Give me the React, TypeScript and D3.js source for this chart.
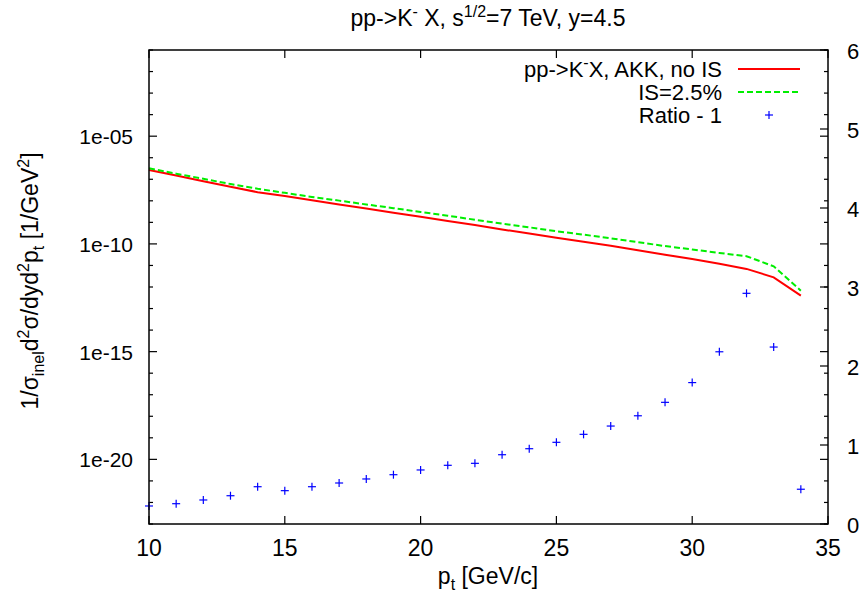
import React from "react";
import * as d3 from "d3";

const pt = [10, 11, 12, 13, 14, 15, 16, 17, 18, 19, 20, 21, 22, 23, 24, 25, 26, 27, 28, 29, 30, 31, 32, 33, 34];
const noIS = [2.69e-7, 1.48e-7, 8.13e-8, 4.47e-8, 2.51e-8, 1.66e-8, 1.05e-8, 6.76e-9, 4.37e-9, 2.82e-9, 1.82e-9, 1.17e-9, 7.59e-10, 4.68e-10, 3.02e-10, 1.95e-10, 1.26e-10, 8.13e-11, 5.13e-11, 3.16e-11, 2.0e-11, 1.2e-11, 6.92e-12, 2.82e-12, 3.98e-13];
const is25 = [3.24e-7, 1.82e-7, 1.05e-7, 6.03e-8, 3.63e-8, 2.34e-8, 1.51e-8, 1.02e-8, 6.76e-9, 4.57e-9, 3.02e-9, 2.04e-9, 1.32e-9, 8.71e-10, 5.89e-10, 3.89e-10, 2.69e-10, 1.82e-10, 1.2e-10, 7.94e-11, 5.5e-11, 3.8e-11, 2.69e-11, 9.12e-12, 6.76e-13];
const ratioM1 = [0.228, 0.257, 0.304, 0.358, 0.472, 0.422, 0.472, 0.519, 0.57, 0.624, 0.684, 0.743, 0.768, 0.877, 0.953, 1.034, 1.135, 1.24, 1.37, 1.54, 1.79, 2.18, 2.92, 2.24, 0.44];

const xTicks = [10, 15, 20, 25, 30, 35];
const yDecades = d3.range(-23, 0); // exponents -23..-1
const yLabeled = [-5, -10, -15, -20];
const y2Ticks = [0, 1, 2, 3, 4, 5, 6];

const FONT = "'Liberation Sans', Arial, sans-serif";

export default function App() {
  const W = 862, H = 600;
  const L = 149, R = 828, T = 50, B = 524;
  const x = d3.scaleLinear().domain([10, 35]).range([L, R]);
  const y = d3.scaleLog().domain([1e-23, 1e-1]).range([B, T]);
  const y2 = d3.scaleLinear().domain([0, 6]).range([B, T]);

  const redLine = d3.line<number>().x((_, i) => x(pt[i])).y((d) => y(d))(noIS) || "";
  const greenLine = d3.line<number>().x((_, i) => x(pt[i])).y((d) => y(d))(is25) || "";

  const fs = 23;
  const ss = 16;
  const major = 8, minor = 4;

  return (
    <svg width={W} height={H} style={{ position: "absolute", left: 0, top: 0, background: "#fff" }} fontFamily={FONT}>
      <rect x={0} y={0} width={W} height={H} fill="#fff" />
      {/* ticks */}
      <g stroke="#000" strokeWidth={1.2}>
        {xTicks.map((t) => (
          <g key={"xt" + t}>
            <line x1={x(t)} x2={x(t)} y1={B} y2={B - major} />
            <line x1={x(t)} x2={x(t)} y1={T} y2={T + major} />
          </g>
        ))}
        {yDecades.map((e) => {
          const len = yLabeled.includes(e) ? major : minor;
          const yy = y(Math.pow(10, e));
          return (
            <g key={"yt" + e}>
              <line x1={L} x2={L + len} y1={yy} y2={yy} />
              <line x1={R} x2={R - len} y1={yy} y2={yy} />
            </g>
          );
        })}
        {y2Ticks.map((t) => (
          <line key={"y2t" + t} x1={R} x2={R - major} y1={y2(t)} y2={y2(t)} />
        ))}
      </g>
      {/* tick labels */}
      <g fontSize={fs} fill="#000">
        {xTicks.map((t) => (
          <text key={"xl" + t} x={x(t)} y={B + 32} textAnchor="middle">{t}</text>
        ))}
        {yLabeled.map((e) => (
          <text key={"yl" + e} x={L - 16} y={y(Math.pow(10, e)) + 8} textAnchor="end" fontSize={21}>
            {"1e-" + String(-e).padStart(2, "0")}
          </text>
        ))}
        {y2Ticks.map((t) => (
          <text key={"y2l" + t} x={R + 19} y={y2(t) + 9} textAnchor="start" fontSize={22}>{t}</text>
        ))}
      </g>
      {/* data */}
      <path d={redLine} fill="none" stroke="#ff0000" strokeWidth={2} />
      <path d={greenLine} fill="none" stroke="#00ee00" strokeWidth={2} strokeDasharray="6,3" />
      <g stroke="#0000ff" strokeWidth={1.2}>
        {ratioM1.map((v, i) => {
          const cx = x(pt[i]);
          const cy = y2(v);
          return (
            <g key={"p" + i}>
              <line x1={cx - 4} x2={cx + 4} y1={cy} y2={cy} />
              <line x1={cx} x2={cx} y1={cy - 4} y2={cy + 4} />
            </g>
          );
        })}
      </g>
      {/* frame */}
      <rect x={L} y={T} width={R - L} height={B - T} fill="none" stroke="#000" strokeWidth={1.5} />
      {/* legend */}
      <g fontSize={22} fill="#000">
        <text x={722} y={77} textAnchor="end">
          pp-&gt;K<tspan dy={-9} fontSize={ss}>-</tspan><tspan dy={9}>X, AKK, no IS</tspan>
        </text>
        <line x1={738} x2={800} y1={69} y2={69} stroke="#ff0000" strokeWidth={2} />
        <text x={722} y={100} textAnchor="end">IS=2.5%</text>
        <line x1={738} x2={800} y1={92} y2={92} stroke="#00ee00" strokeWidth={2} strokeDasharray="6,3" />
        <text x={722} y={123} textAnchor="end">Ratio - 1</text>
        <g stroke="#0000ff" strokeWidth={1.2}>
          <line x1={765} x2={773} y1={115} y2={115} />
          <line x1={769} x2={769} y1={111} y2={119} />
        </g>
      </g>
      {/* title */}
      <text x={488} y={26} textAnchor="middle" fontSize={fs} fill="#000">
        pp-&gt;K<tspan dy={-9} fontSize={ss}>-</tspan><tspan dy={9}> X, s</tspan>
        <tspan dy={-9} fontSize={ss}>1/2</tspan><tspan dy={9}>=7 TeV, y=4.5</tspan>
      </text>
      {/* x label */}
      <text x={488} y={584} textAnchor="middle" fontSize={fs} fill="#000">
        p<tspan dy={6} fontSize={ss}>t</tspan><tspan dy={-6}> [GeV/c]</tspan>
      </text>
      {/* y label */}
      <text transform={`translate(38,281) rotate(-90)`} textAnchor="middle" fontSize={fs} fill="#000">
        1/σ<tspan dy={6} fontSize={ss}>inel</tspan><tspan dy={-6}>d</tspan>
        <tspan dy={-9} fontSize={ss}>2</tspan><tspan dy={9}>σ/dyd</tspan>
        <tspan dy={-9} fontSize={ss}>2</tspan><tspan dy={9}>p</tspan>
        <tspan dy={6} fontSize={ss}>t</tspan><tspan dy={-6}> [1/GeV</tspan>
        <tspan dy={-9} fontSize={ss}>2</tspan><tspan dy={9}>]</tspan>
      </text>
    </svg>
  );
}
